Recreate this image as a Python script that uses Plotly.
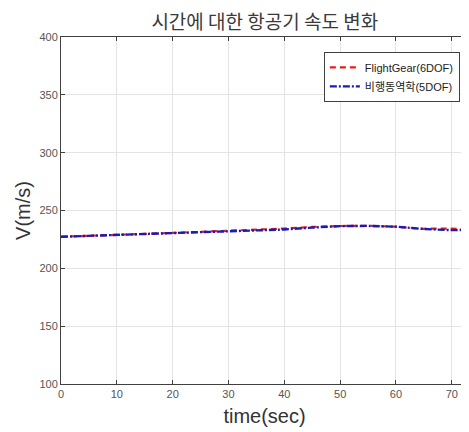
import plotly.graph_objects as go

time_sec = [0, 5, 10, 15, 20, 25, 30, 35, 40, 45, 50, 55, 60, 65, 70, 73]
v_fg = [227.3, 228.3, 229.0, 229.8, 230.6, 231.4, 232.2, 233.0, 234.4, 235.8, 236.6, 236.7, 236.0, 234.2, 234.4, 233.5]
v_5dof = [227.3, 228.2, 229.0, 229.8, 230.5, 231.3, 232.0, 232.8, 233.6, 235.2, 236.5, 236.7, 236.0, 234.0, 233.0, 233.2]

fig = go.Figure()
fig.add_trace(go.Scatter(x=time_sec, y=v_fg, mode="lines", name="FlightGear(6DOF)",
                         line=dict(color="#e0201e", width=2.2, dash="6px,4px")))
fig.add_trace(go.Scatter(x=time_sec, y=v_5dof, mode="lines", name="비행동역학(5DOF)",
                         line=dict(color="#1a1ab8", width=2.4, dash="7px,2px,2px,2px")))

axis_common = dict(showline=True, linecolor="#404040", linewidth=1, mirror="ticks",
                   ticks="inside", ticklen=4, tickcolor="#404040",
                   showgrid=True, gridcolor="#e3e3e3", gridwidth=1, zeroline=False,
                   tickfont=dict(family="Liberation Sans, Arial", size=11, color="#555555"))

# page body has an 8px margin, so the figure is shifted by 8px right and down
fig.update_layout(
    width=461, height=424,
    margin=dict(l=53, r=1, t=29, b=48),
    paper_bgcolor="white", plot_bgcolor="white",
    title=dict(text="시간에 대한 항공기 속도 변화", x=0.557, xanchor="center", y=0.967, yanchor="middle",
               font=dict(family="Noto Sans CJK KR", size=19, color="#3a3a3a")),
    xaxis=dict(range=[0, 72.9], dtick=10, tick0=0,
               title=dict(text="time(sec)", standoff=9,
                          font=dict(family="Liberation Sans, Arial", size=20, color="#333333")),
               **axis_common),
    yaxis=dict(range=[100, 400], dtick=50, tick0=100,
               title=dict(text="V(m/s)", standoff=3,
                          font=dict(family="Liberation Sans, Arial", size=20, color="#333333")),
               **axis_common),
    legend=dict(x=0.98, y=0.957, xanchor="right", yanchor="top",
                bgcolor="white", bordercolor="#404040", borderwidth=1,
                font=dict(family="Liberation Sans, Noto Sans CJK KR", size=11, color="#222222"),
                tracegroupgap=0, itemwidth=30),
    showlegend=True,
)

fig.write_html("out.html")
